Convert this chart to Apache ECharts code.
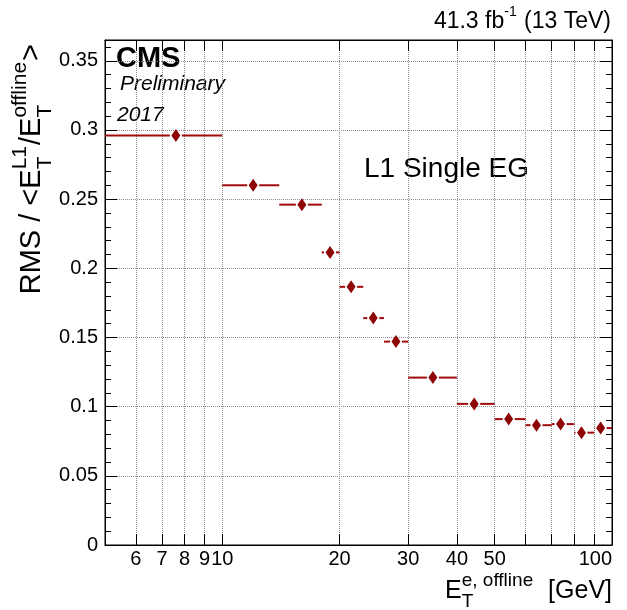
<!DOCTYPE html>
<html>
<head>
<meta charset="utf-8">
<script src="https://cdn.jsdelivr.net/npm/echarts@6/dist/echarts.min.js"></script>
<style>
  html, body { margin: 0; padding: 0; background: #fff; }
  #chart { width: 627px; height: 610px; }
</style>
</head>
<body>
<div id="chart"></div>
<script>
// E_T offline bins [GeV] and the RMS of the L1/offline ratio
var binLow  = [5, 10, 14, 18, 20, 23, 26, 30, 40, 50, 60, 70, 80, 90];
var binHigh = [10, 14, 18, 20, 23, 26, 30, 40, 50, 60, 70, 80, 90, 100];
var binMean = [7.6, 12.0, 16.0, 18.9, 21.4, 24.4, 27.9, 34.7, 44.3, 54.3, 64.0, 73.8, 83.5, 93.5];
var rmsVals = [0.296, 0.260, 0.246, 0.2115, 0.1866, 0.164, 0.147, 0.121, 0.102, 0.091, 0.0866, 0.0874, 0.0812, 0.0845];

// axis ticks
var xTickVals  = [6, 7, 8, 9, 10, 20, 30, 40, 50, 60, 70, 80, 90, 100];
var xLabelVals = [6, 7, 8, 9, 10, 20, 30, 40, 50, 100];
var yLabelVals = [0, 0.05, 0.1, 0.15, 0.2, 0.25, 0.3, 0.35];
var yMinorVals = [0.01, 0.02, 0.03, 0.04, 0.06, 0.07, 0.08, 0.09, 0.11, 0.12, 0.13, 0.14,
                  0.16, 0.17, 0.18, 0.19, 0.21, 0.22, 0.23, 0.24, 0.26, 0.27, 0.28, 0.29,
                  0.31, 0.32, 0.33, 0.34, 0.36];

var FONT = '"Liberation Sans", Arial, sans-serif';
var RED = '#a00c0c';
var MARKER = '#8e0606';
var X_MIN = 5, X_MAX = 100, Y_MAX = 0.365;

function lg(v) { return Math.log10(v); }

var measureCtx = document.createElement('canvas').getContext('2d');
function textW(s, font) {
    measureCtx.font = font;
    return measureCtx.measureText(s).width;
}

// text with stacked super/subscripts, laid out piece by piece (ROOT-like titles)
function scriptText(parts, main, small, opts) {
    var fMain = main + 'px ' + FONT, fSmall = small + 'px ' + FONT;
    var children = [], cx = 0;
    parts.forEach(function (p) {
        if (typeof p === 'string') {
            children.push({ type: 'text', x: cx, y: 0,
                style: { text: p, font: fMain, fill: '#000', verticalAlign: 'middle' } });
            cx += textW(p, fMain);
        } else {
            var w = 0;
            if (p.sup) {
                children.push({ type: 'text', x: cx, y: -main * 0.42,
                    style: { text: p.sup, font: fSmall, fill: '#000', verticalAlign: 'middle' } });
                w = Math.max(w, textW(p.sup, fSmall));
            }
            if (p.sub) {
                children.push({ type: 'text', x: cx, y: main * 0.45,
                    style: { text: p.sub, font: fSmall, fill: '#000', verticalAlign: 'middle' } });
                w = Math.max(w, textW(p.sub, fSmall));
            }
            cx += w + 1;
        }
    });
    var x = opts.x, y = opts.y;
    if (opts.rotate) {
        // reads bottom to top, ending at opts.endY
        y = opts.endY + cx;
    } else if (opts.alignRight) {
        x = opts.x - cx;
    }
    return { type: 'group', x: x, y: y, rotation: opts.rotate ? Math.PI / 2 : 0, children: children };
}

var chart = echarts.init(document.getElementById('chart'));

var tickFont = { fontFamily: FONT, fontSize: 20, color: '#000' };
var blackLine = { color: '#000', width: 1 };
var gridLine = { color: '#8c8c8c', type: 'dotted', width: 1 };

function xAxisCfg(pos, withLabels) {
    return {
        type: 'value', position: pos, min: lg(X_MIN), max: lg(X_MAX),
        axisLine: { show: true, onZero: false, lineStyle: blackLine },
        axisTick: { show: true, inside: true, length: 11, customValues: xTickVals.map(lg), lineStyle: blackLine },
        axisLabel: withLabels ? Object.assign({
            show: true, margin: 4, alignMaxLabel: 'right',
            customValues: xLabelVals.map(lg),
            formatter: function (v) { return String(Math.round(Math.pow(10, v))); }
        }, tickFont) : { show: false },
        splitLine: { show: withLabels, lineStyle: gridLine }
    };
}

function yAxisCfg(pos, major, withLabels) {
    return {
        type: 'value', position: pos, min: 0, max: Y_MAX,
        axisLine: { show: major, onZero: false, lineStyle: blackLine },
        axisTick: { show: true, inside: true, length: major ? 12 : 6,
            customValues: major ? yLabelVals : yMinorVals, lineStyle: blackLine },
        axisLabel: withLabels ? Object.assign({
            show: true, margin: 7, customValues: yLabelVals,
            formatter: function (v) { return String(+v.toFixed(2)); }
        }, tickFont) : { show: false },
        splitLine: { show: withLabels, lineStyle: gridLine }
    };
}

var option = {
    animation: false,
    backgroundColor: '#fff',
    grid: { left: 105, right: 15, top: 40, bottom: 65, show: true, borderColor: '#000', borderWidth: 1 },
    xAxis: [xAxisCfg('bottom', true), xAxisCfg('top', false)],
    yAxis: [
        yAxisCfg('left', true, true),
        yAxisCfg('left', false, false),
        yAxisCfg('right', true, false),
        yAxisCfg('right', false, false)
    ],
    series: [
        {
            // horizontal bin-width bars, broken around the marker
            type: 'custom',
            xAxisIndex: 0, yAxisIndex: 0,
            data: binLow.map(function (lo, i) {
                return [lg(lo), lg(binHigh[i]), lg(binMean[i]), rmsVals[i]];
            }),
            encode: { x: [0, 1, 2], y: 3 },
            renderItem: function (params, api) {
                var y = api.value(3);
                var a = api.coord([api.value(0), y]);
                var b = api.coord([api.value(1), y]);
                var c = api.coord([api.value(2), y]);
                var gap = 6, kids = [];
                if (c[0] - gap > a[0]) {
                    kids.push({ type: 'line', shape: { x1: a[0], y1: a[1], x2: c[0] - gap, y2: c[1] },
                        style: { stroke: RED, lineWidth: 2 } });
                }
                if (b[0] > c[0] + gap) {
                    kids.push({ type: 'line', shape: { x1: c[0] + gap, y1: c[1], x2: b[0], y2: b[1] },
                        style: { stroke: RED, lineWidth: 2 } });
                }
                return { type: 'group', children: kids };
            },
            z: 3
        },
        {
            type: 'scatter',
            xAxisIndex: 0, yAxisIndex: 0,
            data: binMean.map(function (x, i) { return [lg(x), rmsVals[i]]; }),
            symbol: 'diamond',
            symbolSize: [9, 13],
            itemStyle: { color: MARKER, opacity: 1 },
            z: 4
        }
    ],
    graphic: [
        scriptText(['41.3 fb', { sup: '-1' }, ' (13 TeV)'], 23, 14, { x: 611, y: 22, alignRight: true }),
        { type: 'text', x: 116, y: 59, style: { text: 'CMS', font: 'bold 29px ' + FONT, fill: '#000', verticalAlign: 'middle' } },
        { type: 'text', x: 120, y: 84, style: { text: 'Preliminary', font: 'italic 21px ' + FONT, fill: '#000', verticalAlign: 'middle' } },
        { type: 'text', x: 117, y: 115, style: { text: '2017', font: 'italic 21px ' + FONT, fill: '#000', verticalAlign: 'middle' } },
        { type: 'text', x: 364, y: 169, style: { text: 'L1 Single EG', font: '28px ' + FONT, fill: '#000', verticalAlign: 'middle' } },
        scriptText(['RMS / <E', { sup: 'L1', sub: 'T' }, '/E', { sup: 'offline', sub: 'T' }, '>'], 29, 21,
            { x: 32, endY: 44, rotate: true }),
        scriptText(['E', { sup: 'e, offline', sub: 'T' }, '  [GeV]'], 25, 19, { x: 612, y: 591, alignRight: true })
    ]
};

chart.setOption(option);
window.addEventListener('resize', function () {
    chart.resize();
});
</script>
</body>
</html>
